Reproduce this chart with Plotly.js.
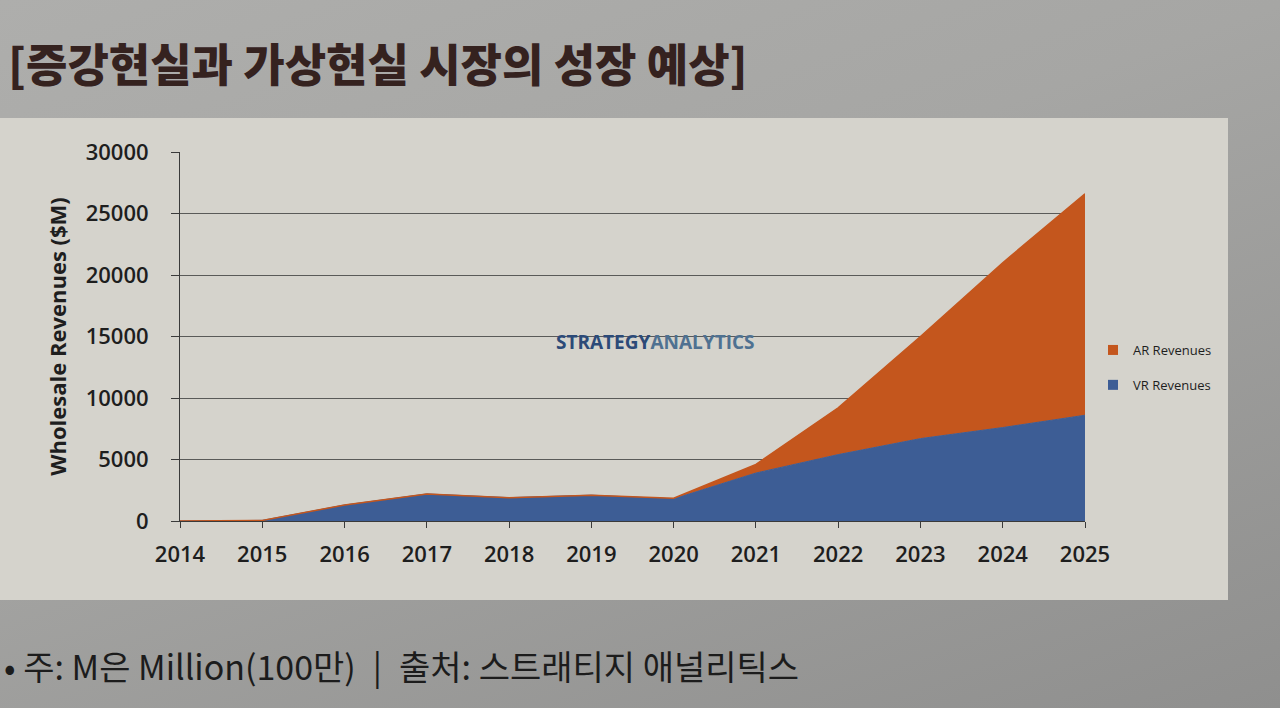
<!DOCTYPE html>
<html>
<head>
<meta charset="utf-8">
<script src="https://cdn.plot.ly/plotly-3.0.1.min.js"></script>
<style>
  html, body { margin: 0; padding: 0; }
  body { background: linear-gradient(160deg, #aeaeac 0%, #a6a6a4 40%, #8f8f8e 100%); }
  #chart { width: 1280px; height: 708px; }
</style>
</head>
<body>
<div id="chart"></div>
<script>
// ---- data ----
const years = [2014, 2015, 2016, 2017, 2018, 2019, 2020, 2021, 2022, 2023, 2024, 2025];
const vrRevenues = [0, 50, 1300, 2200, 1900, 2100, 1800, 3900, 5400, 6700, 7600, 8600];
const arRevenues = [0, 0, 0, 0, 0, 0, 50, 700, 3800, 8300, 13400, 18000];
const yTickVals = [0, 5000, 10000, 15000, 20000, 25000, 30000];
const seriesNames = ["VR Revenues", "AR Revenues"];
const titleText = "[증강현실과 가상현실 시장의 성장 예상]";
const noteText = "• 주: M은 Million(100만)\u2002|\u2002출처: 스트래티지 애널리틱스";
const yTitleText = "Wholesale Revenues ($M)";

const blue = "#3d5d95";
const orange = "#c4561d";
const latin = "'Open Sans', 'Noto Sans', sans-serif";
const kr = "'Noto Sans CJK KR', 'Noto Sans', sans-serif";

const traces = [
  {
    x: years, y: vrRevenues, name: seriesNames[0], type: "scatter", mode: "lines",
    stackgroup: "one", fillcolor: blue, line: {color: blue, width: 1}, showlegend: false
  },
  {
    x: years, y: arRevenues, name: seriesNames[1], type: "scatter", mode: "lines",
    stackgroup: "one", fillcolor: orange, line: {color: orange, width: 1.5}, showlegend: false
  },
  // legend entries (square swatches)
  {
    x: [null], y: [null], name: seriesNames[1], type: "scatter", mode: "markers",
    marker: {symbol: "square", size: 10, color: orange}, legendgroup: "ar"
  },
  {
    x: [null], y: [null], name: seriesNames[0], type: "scatter", mode: "markers",
    marker: {symbol: "square", size: 10, color: blue}, legendgroup: "vr"
  }
];

const L = 180, R = 1085, T = 152, B = 521;
const W = R - L, H = B - T;
const px = v => (v - L) / W;
const py = v => (B - v) / H;

const layout = {
  width: 1280, height: 708,
  margin: {l: L, r: 1280 - R, t: T, b: 708 - B, pad: 0},
  paper_bgcolor: "rgba(0,0,0,0)",
  plot_bgcolor: "rgba(0,0,0,0)",
  showlegend: true,
  legend: {
    x: px(1093), y: py(335), xanchor: "left", yanchor: "top",
    bgcolor: "rgba(0,0,0,0)", traceorder: "grouped", tracegroupgap: 15,
    font: {family: latin, size: 13, color: "#1e1e1e"}, itemwidth: 30
  },
  xaxis: {
    type: "linear", range: [2014, 2025], tickvals: years, ticktext: years.map(String),
    showgrid: false, zeroline: false, showline: true, linecolor: "#3a3a3a", linewidth: 1,
    ticks: "outside", ticklen: 6, tickcolor: "#3a3a3a", ticklabelstandoff: 8,
    tickfont: {family: latin, size: 22, color: "#1e1e1e", weight: 600}
  },
  yaxis: {
    range: [0, 30000], tickvals: yTickVals, ticktext: yTickVals.map(String),
    showgrid: true, gridcolor: "#5a5a58", gridwidth: 1, zeroline: false,
    showline: true, linecolor: "#3a3a3a", linewidth: 1,
    ticks: "outside", ticklen: 8, tickcolor: "#3a3a3a", ticklabelstandoff: 18,
    tickfont: {family: latin, size: 22, color: "#1e1e1e", weight: 600},
    title: {text: yTitleText, standoff: 12, font: {family: latin, size: 22, color: "#1e1e1e", weight: 700}}
  },
  shapes: [
    {
      type: "rect", layer: "below", xref: "paper", yref: "paper",
      x0: px(-5), x1: px(1228), y0: py(600), y1: py(118),
      fillcolor: "#d5d3cc", line: {width: 0}
    }
  ],
  annotations: [
    {
      xref: "paper", yref: "paper", x: px(6), y: py(62), xanchor: "left", yanchor: "middle",
      text: titleText, showarrow: false,
      font: {family: kr, size: 45, color: "#35221f", weight: 900}
    },
    {
      xref: "paper", yref: "paper", x: px(2), y: py(665), xanchor: "left", yanchor: "middle",
      text: noteText, showarrow: false,
      font: {family: kr, size: 34, color: "#1c1c1c"}
    },
    {
      xref: "paper", yref: "paper", x: px(655), y: py(342), xanchor: "center", yanchor: "middle",
      text: "<b><span style='color:#2c4a78'>STRATEGY</span><span style='color:#4f7191'>ANALYTICS</span></b>",
      showarrow: false, font: {family: latin, size: 19}
    }
  ]
};

Plotly.newPlot("chart", traces, layout, {displayModeBar: false, staticPlot: true});
</script>
</body>
</html>
